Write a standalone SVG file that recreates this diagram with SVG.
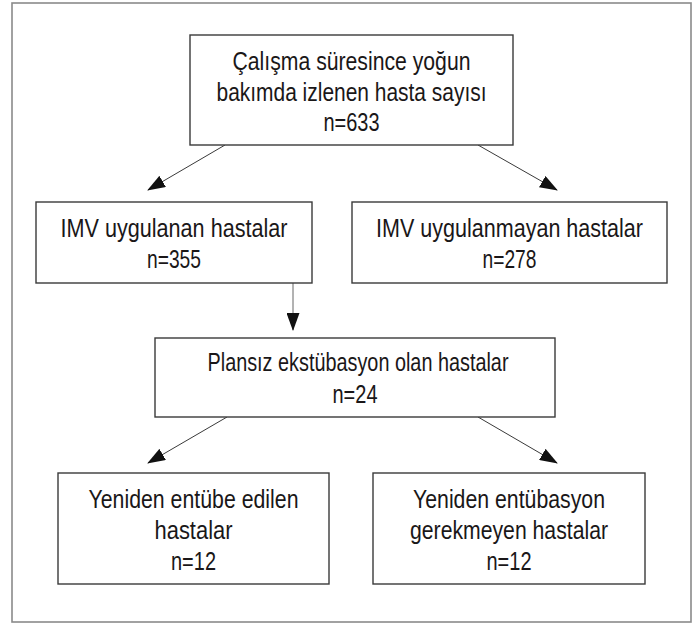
<svg xmlns="http://www.w3.org/2000/svg" width="694" height="624" viewBox="0 0 694 624">
<style>
.frame{fill:#fff;stroke:#8a8a8a;stroke-width:1.6}
.box{fill:#fff;stroke:#3a3a3a;stroke-width:1.4}
.lbl{font-family:"Liberation Sans","Arial",sans-serif;font-size:25px;fill:#1a1718;text-anchor:middle}
.conn{stroke:#3a3a3a;stroke-width:1;fill:none;marker-end:url(#ah)}
</style>
<defs>
<marker id="ah" markerUnits="userSpaceOnUse" markerWidth="18" markerHeight="13" refX="17" refY="6.5" orient="auto" viewBox="0 0 18 13">
<path d="M0,0 L18,6.5 L0,13 z" fill="#111"/>
</marker>
</defs>
<rect class="frame" x="12" y="3" width="679" height="619"/>
<g id="connectors">
<line class="conn" x1="225" y1="145" x2="148" y2="190"/>
<line class="conn" x1="478" y1="145" x2="557" y2="190"/>
<line class="conn" x1="293" y1="283" x2="293" y2="330" style="stroke:#666"/>
<line class="conn" x1="227" y1="417" x2="148" y2="463"/>
<line class="conn" x1="478" y1="417" x2="557" y2="463"/>
</g>
<g id="node-total">
<rect class="box" x="190" y="35" width="323" height="110"/>
<text class="lbl" x="351.5" y="70" textLength="238" lengthAdjust="spacingAndGlyphs">Çalışma süresince yoğun</text>
<text class="lbl" x="351.5" y="101" textLength="270" lengthAdjust="spacingAndGlyphs">bakımda izlenen hasta sayısı</text>
<text class="lbl" x="351.5" y="131" textLength="56" lengthAdjust="spacingAndGlyphs">n=633</text>
</g>
<g id="node-imv">
<rect class="box" x="36" y="202" width="276" height="81"/>
<text class="lbl" x="174" y="237" textLength="227" lengthAdjust="spacingAndGlyphs">IMV uygulanan hastalar</text>
<text class="lbl" x="174" y="268" textLength="54" lengthAdjust="spacingAndGlyphs">n=355</text>
</g>
<g id="node-noimv">
<rect class="box" x="352" y="202" width="315" height="81"/>
<text class="lbl" x="509.5" y="237" textLength="267" lengthAdjust="spacingAndGlyphs">IMV uygulanmayan hastalar</text>
<text class="lbl" x="509.5" y="268" textLength="54" lengthAdjust="spacingAndGlyphs">n=278</text>
</g>
<g id="node-plansiz">
<rect class="box" x="155" y="338" width="400" height="79"/>
<text class="lbl" x="358" y="371" textLength="301" lengthAdjust="spacingAndGlyphs">Plansız ekstübasyon olan hastalar</text>
<text class="lbl" x="355" y="403" textLength="45" lengthAdjust="spacingAndGlyphs">n=24</text>
</g>
<g id="node-reintube">
<rect class="box" x="58" y="473" width="271" height="111"/>
<text class="lbl" x="193.5" y="508" textLength="210" lengthAdjust="spacingAndGlyphs">Yeniden entübe edilen</text>
<text class="lbl" x="193.5" y="539" textLength="78" lengthAdjust="spacingAndGlyphs">hastalar</text>
<text class="lbl" x="193.5" y="570" textLength="45" lengthAdjust="spacingAndGlyphs">n=12</text>
</g>
<g id="node-noreintube">
<rect class="box" x="373" y="473" width="272" height="111"/>
<text class="lbl" x="509" y="508" textLength="192" lengthAdjust="spacingAndGlyphs">Yeniden entübasyon</text>
<text class="lbl" x="509" y="539" textLength="198" lengthAdjust="spacingAndGlyphs">gerekmeyen hastalar</text>
<text class="lbl" x="509" y="570" textLength="45" lengthAdjust="spacingAndGlyphs">n=12</text>
</g>
</svg>
